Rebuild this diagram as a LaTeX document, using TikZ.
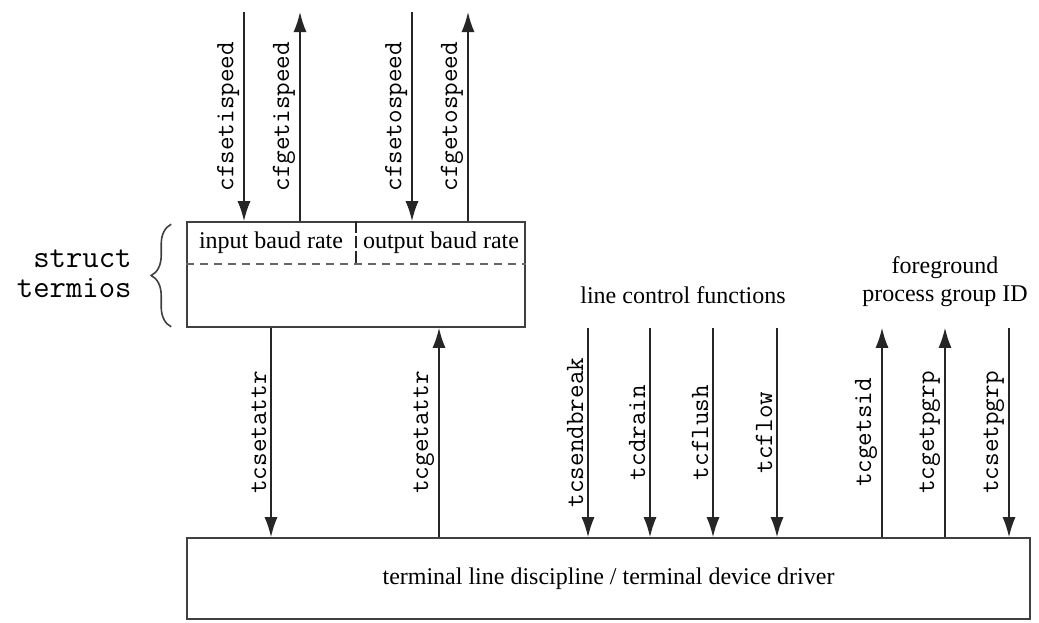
\documentclass[tikz,border=0pt]{standalone}
\usepackage{fontspec}
\setmainfont{Liberation Serif}
\usetikzlibrary{arrows.meta,decorations.pathreplacing}

\begin{document}
\begin{tikzpicture}[x=0.5pt, y=-0.5pt, font=\fontsize{12}{14}\selectfont,
		fleche/.style={draw=black!85, line width=0.8pt},
		descend/.style={-{Latex[length=10pt,width=6.5pt]}},
		monte/.style={{Latex[length=10pt,width=6.5pt]}-},
		fonction/.style={font=\fontsize{13.2}{15}\selectfont\ttfamily, rotate=90, anchor=south, inner sep=2pt, midway},
		boite/.style={draw=black!75, line width=0.8pt, rectangle, inner sep=0pt}]
	\useasboundingbox (0,0) rectangle (1039,622);

	% Boites
	\node[boite, minimum width=169pt, minimum height=52.5pt] (termios) at (356,274.5) {};
	\node[boite, minimum width=421.5pt, minimum height=40.5pt] (pilote) at (608.5,578.5) {terminal line discipline / terminal device driver};

	% Champs de la vitesse
	\coordinate (tiret) at (187,264);
	\draw[black!60, line width=0.8pt, dash pattern=on 4pt off 3pt] (termios.west |- tiret) -- (termios.east |- tiret);
	\draw[black!85, line width=0.8pt, dash pattern=on 6pt off 1.5pt] (termios.north) -- (termios.north |- tiret);
	\node (ientree) at (271,243) {input baud rate};
	\node (isortie) at (441,243) {output baud rate};

	% Accolade
	\draw[black!75, line width=0.8pt, decorate, decoration={brace, amplitude=10pt}]
		([xshift=-7.5pt, yshift=0.5pt]termios.south west) -- ([xshift=-7.5pt, yshift=-1.5pt]termios.north west);
	\node[anchor=east, align=right, inner sep=0pt, font=\fontsize{15.9}{15}\selectfont\ttfamily] (nomstruct) at (132,274) {struct\\termios};

	% Fonctions cf...speed
	\foreach \x/\nom/\sens in {244/cfsetispeed/descend, 300/cfgetispeed/monte, 412/cfsetospeed/descend, 468/cfgetospeed/monte}
	{
		\coordinate (h\nom) at (\x,12);
		\draw[fleche, \sens] (h\nom) -- (h\nom |- termios.north) node[fonction] {\nom};
	}

	% Fonctions tc...
	\foreach \x/\nom/\sens in {271/tcsetattr/descend, 439/tcgetattr/monte, 588/tcsendbreak/descend, 650/tcdrain/descend,
		713/tcflush/descend, 777/tcflow/descend, 882/tcgetsid/monte, 945/tcgetpgrp/monte, 1009/tcsetpgrp/descend}
	{
		\coordinate (b\nom) at (\x,0);
		\draw[fleche, \sens] (b\nom |- termios.south) -- (b\nom |- pilote.north) node[fonction] {\nom};
	}

	% Titres
	\node (lignectl) at (683,295) {line control functions};
	\node[align=center] (avantplan) at (945,282) {foreground\\process group ID};
\end{tikzpicture}
\end{document}
